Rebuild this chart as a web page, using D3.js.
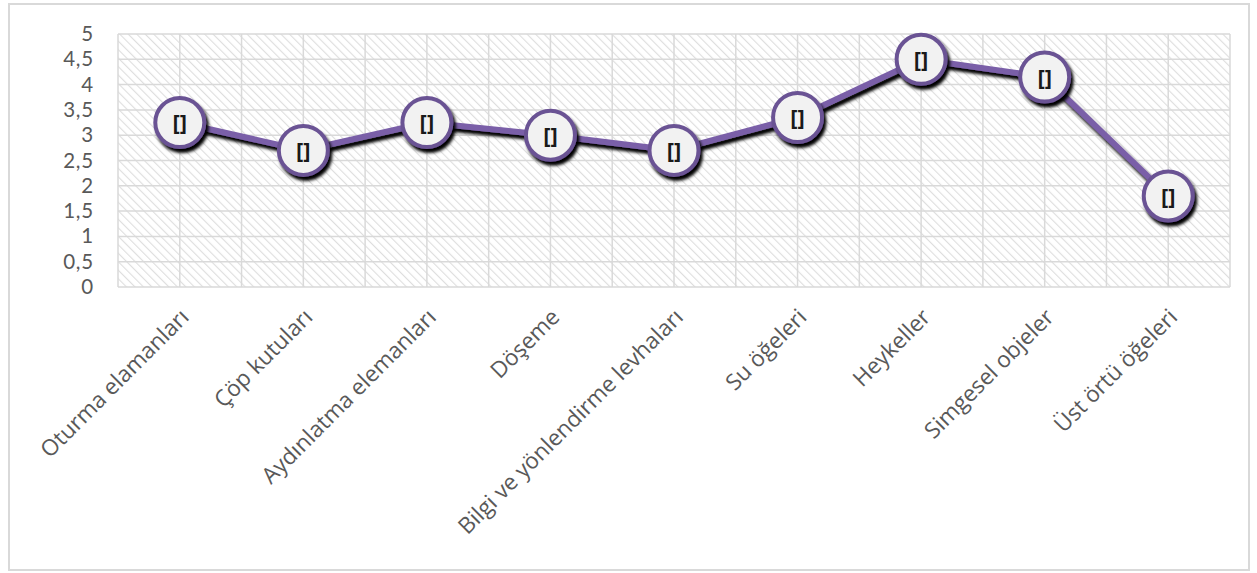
<!DOCTYPE html>
<html>
<head>
<meta charset="utf-8">
<script src="https://cdn.jsdelivr.net/npm/d3@7"></script>
<style>
  body { margin: 0; background: #fff; }
  svg text { font-family: "Open Sans", sans-serif; }
</style>
</head>
<body>
<svg id="chart" width="1257" height="573"></svg>
<script>
// kategoriler ve ortalama puanlar
var categories = ['Oturma elamanları', 'Çöp kutuları', 'Aydınlatma elemanları', 'Döşeme',
  'Bilgi ve yönlendirme levhaları', 'Su öğeleri', 'Heykeller', 'Simgesel objeler', 'Üst örtü öğeleri'];
var values = [3.25, 2.7, 3.25, 3.0, 2.7, 3.35, 4.5, 4.15, 1.8];
var yTicks = [0, 0.5, 1, 1.5, 2, 2.5, 3, 3.5, 4, 4.5, 5];
var pointLabels = ['[]', '[]', '[]', '[]', '[]', '[]', '[]', '[]', '[]'];

var svg = d3.select('#chart');
var plot = {left: 118, right: 1230, top: 34, bottom: 287};

var defs = svg.append('defs');
var pat = defs.append('pattern')
  .attr('id', 'hatch')
  .attr('patternUnits', 'userSpaceOnUse')
  .attr('width', 6).attr('height', 6)
  .attr('patternTransform', 'rotate(-45)');
pat.append('rect').attr('width', 6).attr('height', 6).attr('fill', '#fff');
pat.append('line').attr('x1', 0).attr('y1', 0).attr('x2', 0).attr('y2', 6)
  .attr('stroke', '#dedede').attr('stroke-width', 2.2);

var shadow = defs.append('filter').attr('id', 'shadow')
  .attr('x', '-30%').attr('y', '-30%').attr('width', '160%').attr('height', '160%');
shadow.append('feDropShadow')
  .attr('dx', 2.5).attr('dy', 4).attr('stdDeviation', 1.6)
  .attr('flood-color', '#000').attr('flood-opacity', 1);

// dış çerçeve
svg.append('rect')
  .attr('x', 9).attr('y', 4).attr('width', 1240).attr('height', 566)
  .attr('fill', '#fff').attr('stroke', '#d9d9d9').attr('stroke-width', 2);

var x = d3.scaleBand().domain(categories).range([plot.left, plot.right]).padding(0);
var y = d3.scaleLinear().domain([0, 5]).range([plot.bottom, plot.top]);

svg.append('rect')
  .attr('x', plot.left).attr('y', plot.top)
  .attr('width', plot.right - plot.left).attr('height', plot.bottom - plot.top)
  .attr('fill', 'url(#hatch)');

// dikey ızgara: kategori sınırları ve ortaları
var vgrid = [];
categories.forEach(function(c) {
  vgrid.push(x(c));
  vgrid.push(x(c) + x.bandwidth() / 2);
});
vgrid.push(plot.right);

svg.append('g').selectAll('line').data(vgrid).enter().append('line')
  .attr('x1', function(d) { return d; }).attr('x2', function(d) { return d; })
  .attr('y1', plot.top).attr('y2', plot.bottom)
  .attr('stroke', '#d9d9d9').attr('stroke-width', 1.5);

svg.append('g').selectAll('line').data(yTicks).enter().append('line')
  .attr('x1', plot.left).attr('x2', plot.right)
  .attr('y1', function(d) { return y(d); }).attr('y2', function(d) { return y(d); })
  .attr('stroke', '#d9d9d9').attr('stroke-width', 1.5);

// y ekseni
var yAxis = svg.append('g')
  .attr('transform', 'translate(' + (plot.left - 24) + ',0)')
  .call(d3.axisLeft(y).tickValues(yTicks).tickSize(0).tickPadding(0)
    .tickFormat(function(d) { return String(d).replace('.', ','); }));
yAxis.select('.domain').remove();
yAxis.selectAll('text')
  .attr('font-size', 20.5).attr('fill', '#595959')
  .attr('letter-spacing', 0.8)
  .style('font-family', 'Lato, sans-serif');

// x ekseni etiketleri
var xAxis = svg.append('g')
  .attr('transform', 'translate(0,' + plot.bottom + ')')
  .call(d3.axisBottom(x).tickSize(0).tickPadding(0));
xAxis.select('.domain').remove();
xAxis.selectAll('text')
  .attr('font-size', 22.5).attr('fill', '#595959')
  .attr('text-anchor', 'end')
  .attr('x', 0).attr('y', 0).attr('dy', '0.35em')
  .attr('transform', 'translate(5,26) rotate(-45)')
  .style('font-family', '"Open Sans", sans-serif');

var cx = function(d, i) { return x(categories[i]) + x.bandwidth() / 2; };

var line = d3.line()
  .x(function(d, i) { return cx(d, i); })
  .y(function(d) { return y(d); });

svg.append('path')
  .datum(values)
  .attr('d', line)
  .attr('fill', 'none')
  .attr('stroke', '#7a5fa8')
  .attr('stroke-width', 6)
  .attr('filter', 'url(#shadow)');

var pts = svg.append('g').selectAll('g').data(values).enter().append('g')
  .attr('transform', function(d, i) { return 'translate(' + cx(d, i) + ',' + y(d) + ')'; });

pts.append('circle')
  .attr('r', 24.5)
  .attr('fill', '#f2f2f2')
  .attr('stroke', '#6b5394')
  .attr('stroke-width', 4)
  .attr('filter', 'url(#shadow)');

pts.append('text')
  .text(function(d, i) { return pointLabels[i]; })
  .attr('text-anchor', 'middle')
  .attr('dy', '0.35em')
  .attr('font-size', 22)
  .attr('font-weight', 'bold')
  .attr('fill', '#1a1a1a');
</script>
</body>
</html>
